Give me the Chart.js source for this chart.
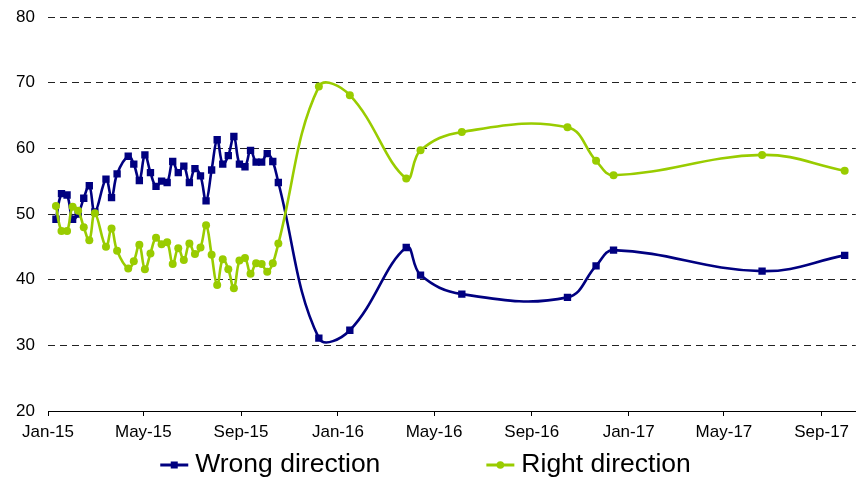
<!DOCTYPE html>
<html>
<head>
<meta charset="utf-8">
<title>Direction of the country</title>
<script src="https://cdn.jsdelivr.net/npm/chart.js@4.4.0/dist/chart.umd.min.js"></script>
<style>
  html, body { margin: 0; padding: 0; background: #ffffff; }
  #wrap { position: relative; width: 861px; height: 480px; }
</style>
</head>
<body>
<div id="wrap"><canvas id="chart" width="861" height="480"></canvas></div>
<script>
// Survey dates (weekly tracking through Oct 2015, then occasional polls)
const pollDates = [
  '2015-01-11', '2015-01-18', '2015-01-25', '2015-02-01', '2015-02-08', '2015-02-15', '2015-02-22', '2015-03-01',
  '2015-03-15', '2015-03-22', '2015-03-29',
  '2015-04-12', '2015-04-19', '2015-04-26', '2015-05-03', '2015-05-10', '2015-05-17', '2015-05-24', '2015-05-31',
  '2015-06-07', '2015-06-14', '2015-06-21', '2015-06-28', '2015-07-05', '2015-07-12', '2015-07-19', '2015-07-26',
  '2015-08-02', '2015-08-09', '2015-08-16', '2015-08-23', '2015-08-30', '2015-09-06', '2015-09-13', '2015-09-20', '2015-09-27',
  '2015-10-04', '2015-10-11', '2015-10-18',
  '2015-12-08', '2016-01-16', '2016-03-27', '2016-04-14', '2016-06-05', '2016-10-16', '2016-11-21', '2016-12-13',
  '2017-06-18', '2017-09-30'
];

// Share of respondents (%)
const wrongDirection = [
  49.2, 53.1, 52.9, 49.2, 50.0, 52.4, 54.3, 50.3,
  55.3, 52.5, 56.1,
  58.8, 57.6, 55.1, 59.0, 56.3, 54.2, 55.0, 54.8,
  58.0, 56.3, 57.3, 54.8, 56.9, 55.8, 52.0, 56.7,
  61.3, 57.6, 58.9, 61.8, 57.6, 57.2, 59.7, 57.9, 57.9,
  59.2, 58.0, 54.8,
  31.1, 32.3, 44.9, 40.7, 37.8, 37.3, 42.1, 44.5,
  41.3, 43.7
];
const rightDirection = [
  51.2, 47.4, 47.4, 51.1, 50.5, 48.0, 46.0, 50.1,
  45.0, 47.8, 44.4,
  41.7, 42.8, 45.3, 41.6, 44.0, 46.4, 45.4, 45.7,
  42.4, 44.8, 43.0, 45.5, 43.9, 44.9, 48.3, 43.8,
  39.2, 43.1, 41.6, 38.7, 42.9, 43.3, 40.9, 42.5, 42.4,
  41.2, 42.5, 45.5,
  69.4, 68.1, 55.4, 59.7, 62.5, 63.2, 58.1, 55.9,
  59.0, 56.6
];

// Date axis
const axisStart = '2015-01-01';
const axisEnd = '2017-10-14';
const tickDates = ['2015-01-01', '2015-05-01', '2015-09-01', '2016-01-01', '2016-05-01',
                   '2016-09-01', '2017-01-01', '2017-05-01', '2017-09-01'];
const tickLabels = ['Jan-15', 'May-15', 'Sep-15', 'Jan-16', 'May-16', 'Sep-16', 'Jan-17', 'May-17', 'Sep-17'];

// Value axis
const yMin = 20, yMax = 80, yStep = 10;

const seriesNames = ['Wrong direction', 'Right direction'];

// Days elapsed since the start of the axis
function dayIndex(iso) {
  const [y, m, d] = iso.split('-').map(Number);
  const [y0, m0, d0] = axisStart.split('-').map(Number);
  return Math.round((Date.UTC(y, m - 1, d) - Date.UTC(y0, m0 - 1, d0)) / 86400000);
}

const tickDays = tickDates.map(dayIndex);
const toPoints = values => values.map((v, i) => ({ x: dayIndex(pollDates[i]), y: v }));

const NAVY = '#000080';
const GREEN = '#99cc00';
const FONT = '"Liberation Sans", Arial, Helvetica, sans-serif';

// Bottom legend: short line with marker, followed by the series name
const bottomLegend = {
  id: 'bottomLegend',
  afterDraw(chart) {
    const ctx = chart.ctx;
    const fontSize = 26.5, lineLen = 28, gap = 7, itemGap = 106;
    const centerX = 425.5, y = 465;
    ctx.save();
    ctx.font = fontSize + 'px ' + FONT;
    ctx.textBaseline = 'middle';
    ctx.textAlign = 'left';
    const items = chart.data.datasets.map(ds => ({
      text: ds.label, color: ds.borderColor, style: ds.pointStyle,
      width: ctx.measureText(ds.label).width
    }));
    const total = items.reduce((s, it) => s + lineLen + gap + it.width, 0) + itemGap * (items.length - 1);
    let x = centerX - total / 2;
    items.forEach(it => {
      ctx.strokeStyle = it.color;
      ctx.lineWidth = 3;
      ctx.beginPath();
      ctx.moveTo(x, y);
      ctx.lineTo(x + lineLen, y);
      ctx.stroke();
      ctx.fillStyle = it.color;
      const cx = x + lineLen / 2;
      if (it.style === 'rect') {
        ctx.fillRect(cx - 3.5, y - 3.5, 7, 7);
      } else {
        ctx.beginPath();
        ctx.arc(cx, y, 3.8, 0, Math.PI * 2);
        ctx.fill();
      }
      ctx.fillStyle = '#000000';
      ctx.fillText(it.text, x + lineLen + gap, y);
      x += lineLen + gap + it.width + itemGap;
    });
    ctx.restore();
  }
};

new Chart(document.getElementById('chart'), {
  type: 'line',
  data: {
    datasets: [
      {
        label: seriesNames[0],
        data: toPoints(wrongDirection),
        borderColor: NAVY,
        backgroundColor: NAVY,
        borderWidth: 2.6,
        pointStyle: 'rect',
        pointRadius: 5.2,
        pointBorderWidth: 0,
        pointBackgroundColor: NAVY,
        tension: 0.4,
        order: 1
      },
      {
        label: seriesNames[1],
        data: toPoints(rightDirection),
        borderColor: GREEN,
        backgroundColor: GREEN,
        borderWidth: 2.6,
        pointStyle: 'circle',
        pointRadius: 4,
        pointBorderWidth: 0,
        pointBackgroundColor: GREEN,
        tension: 0.4,
        order: 0
      }
    ]
  },
  options: {
    responsive: false,
    animation: false,
    devicePixelRatio: 1,
    layout: { padding: { top: 17, right: 3, bottom: 37, left: 0 } },
    plugins: {
      legend: { display: false },
      tooltip: { enabled: false }
    },
    scales: {
      x: {
        type: 'linear',
        min: dayIndex(axisStart),
        max: dayIndex(axisEnd),
        afterBuildTicks: scale => { scale.ticks = tickDays.map(v => ({ value: v })); },
        afterFit: scale => { scale.height = 32; },
        ticks: {
          autoSkip: false,
          maxRotation: 0,
          padding: 6,
          color: '#000000',
          font: { family: FONT, size: 17 },
          callback: (value, index) => tickLabels[index]
        },
        grid: {
          drawOnChartArea: false,
          drawTicks: true,
          tickLength: 5,
          tickColor: '#000000',
          tickWidth: 1
        },
        border: { display: true, color: '#000000', width: 1 }
      },
      y: {
        min: yMin,
        max: yMax,
        afterFit: scale => { scale.width = 48; scale.paddingTop = 0; scale.paddingBottom = 0; },
        ticks: {
          stepSize: yStep,
          padding: 13,
          color: '#000000',
          font: { family: FONT, size: 17 }
        },
        grid: {
          drawTicks: false,
          color: '#222222',
          lineWidth: 1
        },
        border: { display: false, dash: [7, 5] }
      }
    }
  },
  plugins: [bottomLegend]
});
</script>
</body>
</html>
